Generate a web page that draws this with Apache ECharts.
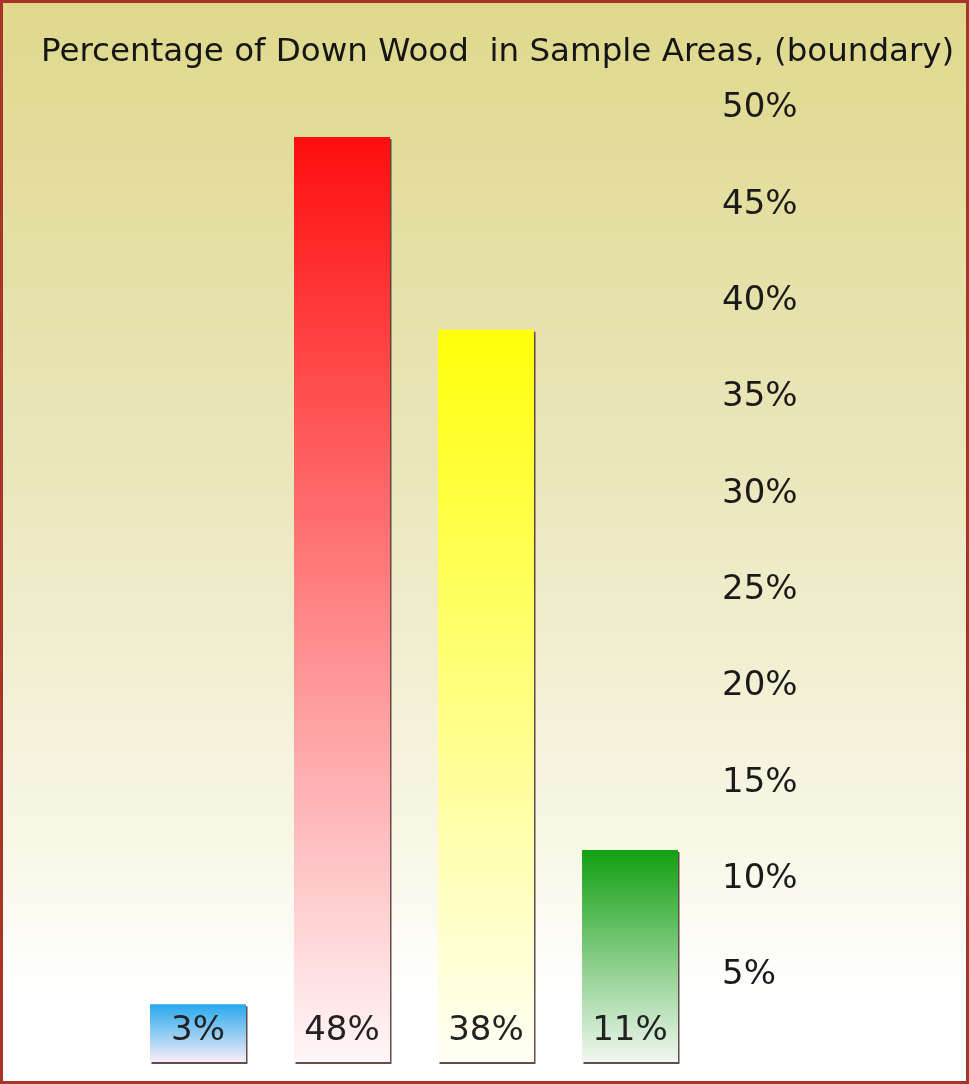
<!DOCTYPE html>
<html>
<head>
<meta charset="utf-8">
<script src="https://cdn.jsdelivr.net/npm/echarts@6/dist/echarts.min.js"></script>
<style>
  html, body { margin: 0; padding: 0; background: #fff; }
  #chart { width: 969px; height: 1084px; }
</style>
</head>
<body>
<div id="chart"></div>
<script>
// Down wood share per sample area (boundary)
const categories = ['Area 1', 'Area 2', 'Area 3', 'Area 4'];
const values = [3, 48, 38, 11];
const barColors = [
  ['#27a8ee', '#f9eef7'],
  ['#ff0e0e', '#fff6f8'],
  ['#ffff0a', '#fffff6'],
  ['#12a012', '#f1f7f0']
];
const axisMax = 50;
const axisStep = 5;
const titleText = 'Percentage of Down Wood  in Sample Areas, (boundary)';

const FONT = 'DejaVu Sans';

function vGrad(top, bottom) {
  return new echarts.graphic.LinearGradient(0, 0, 0, 1, [
    { offset: 0, color: top },
    { offset: 1, color: bottom }
  ]);
}

const chart = echarts.init(document.getElementById('chart'), null, { renderer: 'canvas' });

chart.setOption({
  animation: false,
  backgroundColor: new echarts.graphic.LinearGradient(0, 0, 0, 1, [
    { offset: 0, color: '#dfd88c' },
    { offset: 0.45, color: '#ebe7bd' },
    { offset: 0.8, color: '#f9f8ea' },
    { offset: 0.92, color: '#ffffff' },
    { offset: 1, color: '#ffffff' }
  ]),
  title: {
    text: titleText,
    left: 36,
    top: 31,
    textStyle: { fontFamily: FONT, fontSize: 32.5, fontWeight: 'normal', color: '#151515' }
  },
  grid: { left: 126, right: 267, top: 98.5, bottom: 22, containLabel: false },
  xAxis: {
    type: 'category',
    data: categories,
    axisLine: { show: false },
    axisTick: { show: false },
    axisLabel: { show: false },
    splitLine: { show: false }
  },
  yAxis: {
    type: 'value',
    position: 'right',
    min: 0,
    max: axisMax,
    interval: axisStep,
    axisLine: { show: false },
    axisTick: { show: false },
    splitLine: { show: false },
    axisLabel: {
      margin: 20,
      showMinLabel: false,
      fontFamily: FONT,
      fontSize: 34,
      color: '#1a1a1a',
      verticalAlign: 'top',
      lineHeight: 20,
      formatter: v => v + '%'
    }
  },
  series: [{
    type: 'bar',
    barWidth: 96,
    data: values.map((v, i) => ({
      value: v,
      itemStyle: {
        color: vGrad(barColors[i][0], barColors[i][1]),
        shadowColor: 'rgba(70,45,45,0.85)',
        shadowOffsetX: 1.5,
        shadowOffsetY: 2,
        shadowBlur: 0
      }
    })),
    label: {
      show: true,
      position: 'insideBottom',
      distance: 14,
      fontFamily: FONT,
      fontSize: 34,
      color: '#222',
      formatter: p => p.value + '%'
    }
  }],
  graphic: [{
    type: 'rect',
    silent: true,
    shape: { x: 1.5, y: 1.5, width: 966, height: 1081 },
    style: { fill: 'none', stroke: '#a83428', lineWidth: 3 },
    z: 100
  }]
});
</script>
</body>
</html>
